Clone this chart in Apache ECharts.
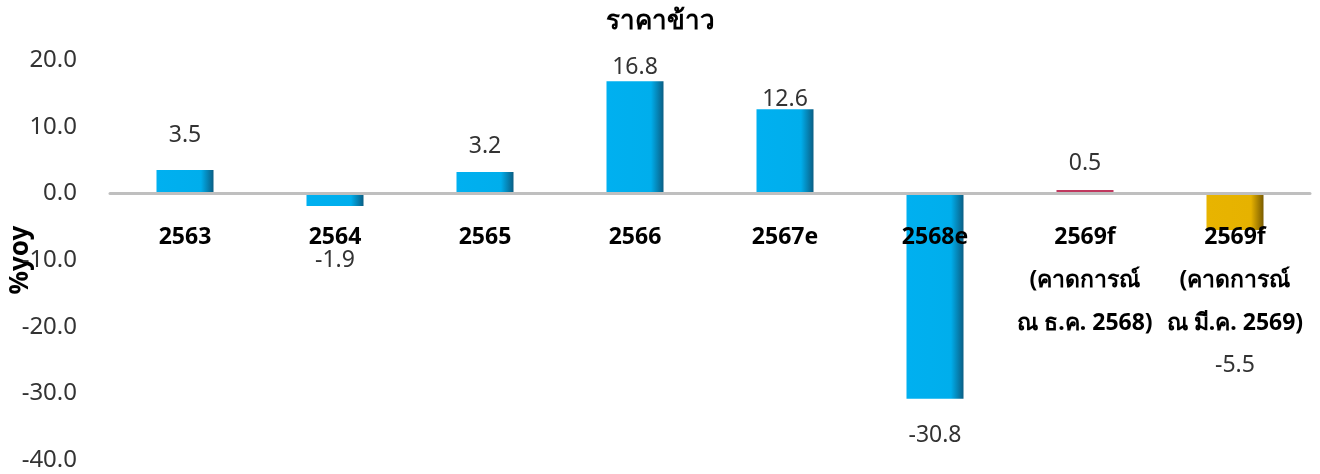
<!DOCTYPE html>
<html>
<head>
<meta charset="utf-8">
<script src="https://cdn.jsdelivr.net/npm/echarts@6/dist/echarts.min.js"></script>
<style>
  html, body { margin: 0; padding: 0; background: #fff; }
  #chart { width: 1320px; height: 474px; }
</style>
</head>
<body>
<div id="chart"></div>
<script>
// ข้อมูล
const categories = [
  '2563', '2564', '2565', '2566', '2567e', '2568e',
  '2569f\n(คาดการณ์\nณ ธ.ค. 2568)',
  '2569f\n(คาดการณ์\nณ มี.ค. 2569)'
];
const values = [3.5, -1.9, 3.2, 16.8, 12.6, -30.8, 0.5, -5.5];
const yTicks = [-40, -30, -20, -10, 0, 10, 20];

// ตำแหน่งป้ายตัวเลขที่เลื่อนด้วยมือในต้นฉบับ (px)
const labelNudge = [-24, 43, -15, -3, 1, 26, -16, 124];

const FONT = '"Noto Sans", "DejaVu Sans", sans-serif';
const GRID = { left: 110, right: 10, top: 60, bottom: 14 };
const gridH = 474 - GRID.top - GRID.bottom;
const yMin = yTicks[0];
const yMax = yTicks[yTicks.length - 1];
// แกน x อยู่ที่ระดับศูนย์ (ป้ายหมวดอยู่ใต้เส้นศูนย์)
const zeroShift = gridH * (0 - yMin) / (yMax - yMin);

const cyan = new echarts.graphic.LinearGradient(0, 0, 1, 0, [
  { offset: 0, color: '#00B0F0' },
  { offset: 0.78, color: '#00AEEC' },
  { offset: 1, color: '#0A5E84' }
]);
const gold = new echarts.graphic.LinearGradient(0, 0, 1, 0, [
  { offset: 0, color: '#E8B400' },
  { offset: 0.78, color: '#E6B200' },
  { offset: 1, color: '#7A5C00' }
]);
const barColors = [cyan, cyan, cyan, cyan, cyan, cyan, '#C0395F', gold];

const chart = echarts.init(document.getElementById('chart'));

const option = {
  animation: false,
  title: {
    text: 'ราคาข้าว',
    left: 'center',
    top: 4,
    textStyle: { fontFamily: FONT, fontSize: 26, fontWeight: 'bold', color: '#000' }
  },
  grid: Object.assign({ outerBoundsMode: 'none', containLabel: false }, GRID),
  xAxis: {
    type: 'category',
    data: categories,
    z: 10,
    offset: -zeroShift,
    axisLine: { onZero: false, lineStyle: { color: '#BFBFBF', width: 3 } },
    axisTick: { show: false },
    axisLabel: {
      interval: 0,
      margin: 23,
      fontFamily: FONT,
      fontSize: 23,
      fontWeight: 'bold',
      lineHeight: 43,
      color: '#000'
    }
  },
  yAxis: {
    type: 'value',
    min: yMin,
    max: yMax,
    interval: 10,
    name: '%yoy',
    nameLocation: 'middle',
    nameGap: 76,
    nameMoveOverlap: false,
    nameTextStyle: { fontFamily: FONT, fontSize: 26, fontWeight: 'bold', color: '#000' },
    axisLine: { show: false },
    axisTick: { show: false },
    splitLine: { show: false },
    axisLabel: {
      margin: 33,
      fontFamily: FONT,
      fontSize: 24,
      color: '#333',
      formatter: v => v.toFixed(1)
    }
  },
  series: [{
    type: 'bar',
    barWidth: 57,
    data: values.map((v, i) => ({
      value: v,
      itemStyle: { color: barColors[i] },
      label: {
        position: v >= 0 ? 'top' : 'bottom',
        offset: [0, labelNudge[i]]
      }
    })),
    label: {
      show: true,
      distance: 0,
      fontFamily: FONT,
      fontSize: 23,
      lineHeight: 22,
      color: '#333',
      formatter: p => p.value.toFixed(1)
    }
  }]
};

chart.setOption(option);
</script>
</body>
</html>
